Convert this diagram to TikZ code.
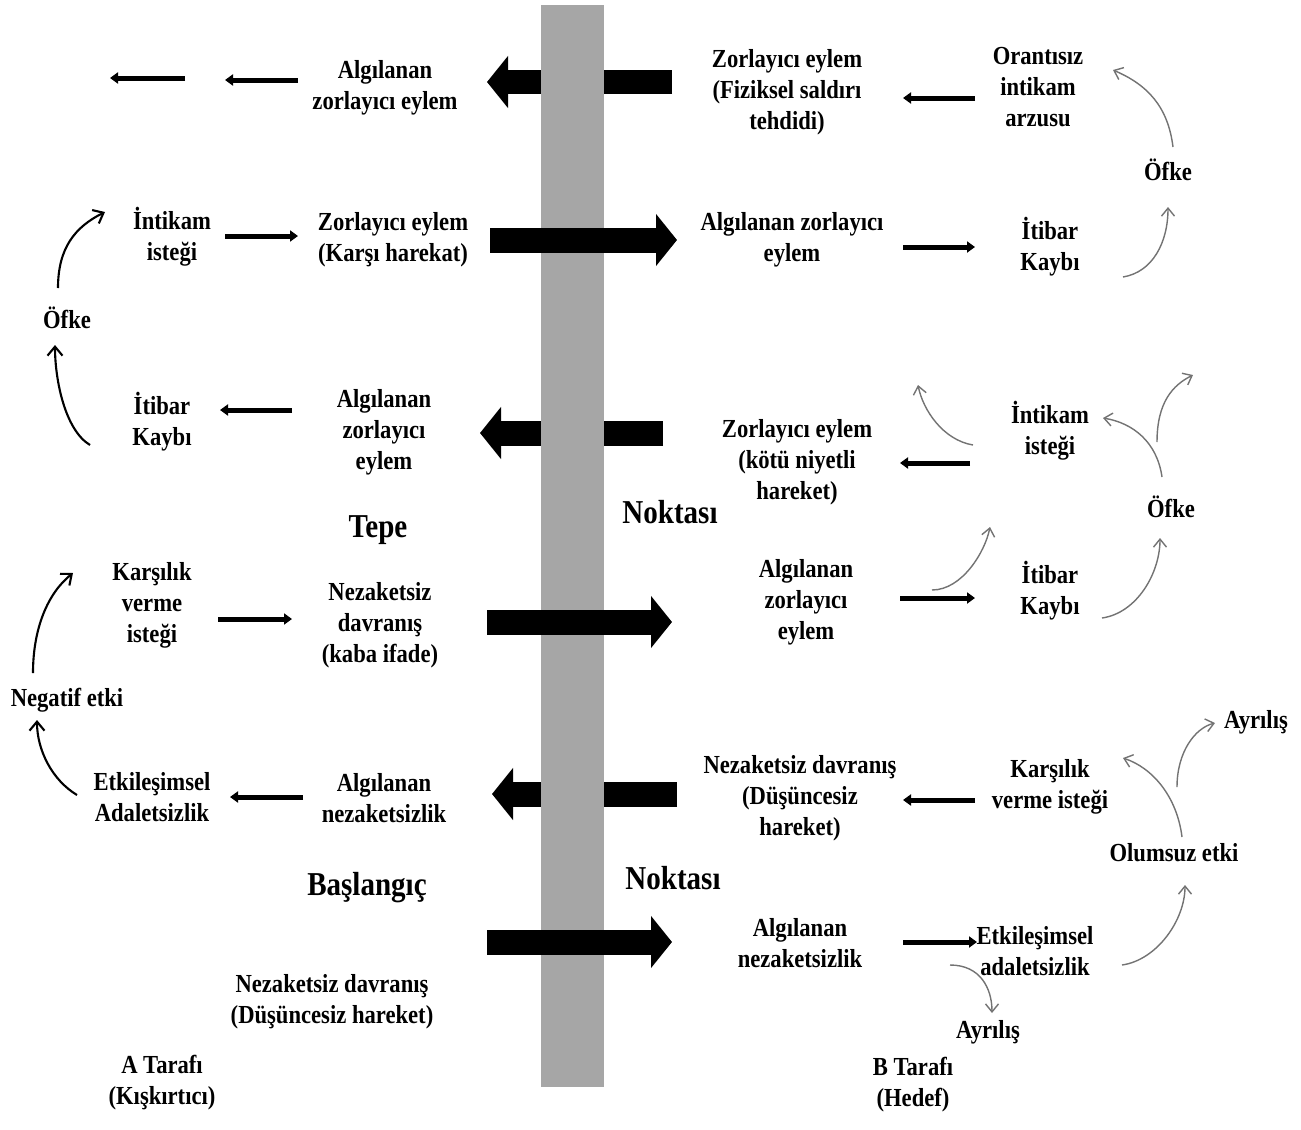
\documentclass[tikz,border=0pt]{standalone}
\usepackage{fontspec}
\setmainfont{Liberation Serif}[FakeStretch=0.87]
\usetikzlibrary{arrows.meta}

\begin{document}
\begin{tikzpicture}[
    x=0.02cm, y=-0.02cm,
    txt/.style={font=\fontsize{14.8pt}{17.6pt}\selectfont\bfseries, align=center, inner sep=0pt},
    heading/.style={font=\fontsize{19pt}{22pt}\selectfont\bfseries, inner sep=0pt},
    wall/.style={rectangle, fill=black!35, minimum width=1.26cm, minimum height=21.64cm, inner sep=0pt},
    bigarrow/.style={line width=0.5cm, -{Triangle[length=0.42cm, width=1.02cm]}},
    thinarrow/.style={line width=0.1cm, -{Triangle[length=0.16cm, width=0.22cm]}},
    loopA/.style={line width=1.2pt, -{Straight Barb[length=0.18cm, width=0.3cm]}},
    loopB/.style={black!55, line width=0.8pt, -{Straight Barb[length=0.16cm, width=0.26cm]}}
]
\useasboundingbox (0,0) rectangle (1301,1129);

% Side A
\node[txt] (aAlg1) at (385,88) {Algılanan\\zorlayıcı eylem};
\node[txt] (aInt) at (172,237) {İntikam\\isteği};
\node[txt] (aZor2) at (393,240) {Zorlayıcı eylem\\(Karşı harekat)};
\node[txt] (aOfke) at (67,318) {Öfke};
\node[txt] (aItb) at (162,422) {İtibar\\Kaybı};
\node[txt] (aAlg3) at (384,432) {Algılanan\\zorlayıcı\\eylem};
\node[heading] (tepe) at (378,530) {Tepe};
\node[txt] (aKar) at (152,605) {Karşılık\\verme\\isteği};
\node[txt] (aNez4) at (380,625) {Nezaketsiz\\davranış\\(kaba ifade)};
\node[txt] (aNeg) at (67,700) {Negatif etki};
\node[txt] (aEtk) at (152,797) {Etkileşimsel\\Adaletsizlik};
\node[txt] (aAlg5) at (384,798) {Algılanan\\nezaketsizlik};
\node[heading] (basl) at (367,888) {Başlangıç};
\node[txt] (aNez6) at (332,1002) {Nezaketsiz davranış\\(Düşüncesiz hareket)};
\node[txt] (aSide) at (162,1083) {A Tarafı\\(Kışkırtıcı)};

% Side B
\node[txt] (bZor1) at (787,92) {Zorlayıcı eylem\\(Fiziksel saldırı\\tehdidi)};
\node[txt] (bOran) at (1038,87) {Orantısız\\intikam\\arzusu};
\node[txt] (bOfke1) at (1168,170) {Öfke};
\node[txt] (bAlg2) at (792,240) {Algılanan zorlayıcı\\eylem};
\node[txt] (bItb2) at (1050,247) {İtibar\\Kaybı};
\node[txt] (bZor3) at (797,462) {Zorlayıcı eylem\\(kötü niyetli\\hareket)};
\node[txt] (bInt3) at (1050,431) {İntikam\\isteği};
\node[heading] (nokt1) at (670,512) {Noktası};
\node[txt] (bOfke3) at (1171,507) {Öfke};
\node[txt] (bAlg4) at (806,602) {Algılanan\\zorlayıcı\\eylem};
\node[txt] (bItb4) at (1050,591) {İtibar\\Kaybı};
\node[txt] (bNez5) at (800,798) {Nezaketsiz davranış\\(Düşüncesiz\\hareket)};
\node[txt] (bKar5) at (1050,787) {Karşılık\\verme isteği};
\node[txt] (bAyr1) at (1256,722) {Ayrılış};
\node[txt] (bOlm) at (1174,853) {Olumsuz etki};
\node[heading] (nokt2) at (673,878) {Noktası};
\node[txt] (bAlg6) at (800,943) {Algılanan\\nezaketsizlik};
\node[txt] (bEtk6) at (1035,951) {Etkileşimsel\\adaletsizlik};
\node[txt] (bAyr2) at (988,1032) {Ayrılış};
\node[txt] (bSide) at (913,1085) {B Tarafı\\(Hedef)};

% Free ends
\coordinate (aOut1) at (225,80);
\coordinate (aOut2) at (185,78);
\coordinate (aOut3) at (110,78);
\coordinate (bOut1) at (918,385);
\coordinate (bOut2) at (1193,375);
\coordinate (bOut3) at (990,527);

% Block arrows B to A (behind the wall)
\draw[bigarrow] ([shift={(-115,-10)}]bZor1.center) -- ([shift={(102,-6)}]aAlg1.center);
\draw[bigarrow] ([shift={(-134,-29)}]bZor3.center) -- ([shift={(96,1)}]aAlg3.center);
\draw[bigarrow] ([shift={(-123,-4)}]bNez5.center) -- ([shift={(108,-4)}]aAlg5.center);

% Wall
\node[wall] (wall) at (572.5,546) {};

% Block arrows A to B
\draw[bigarrow] ([shift={(97,0)}]aZor2.center) -- ([shift={(-115,0)}]bAlg2.center);
\draw[bigarrow] ([shift={(107,-3)}]aNez4.center) -- ([shift={(-134,20)}]bAlg4.center);
\draw[bigarrow] ([shift={(155,-60)}]aNez6.center) -- ([shift={(-128,-1)}]bAlg6.center);

% Thin arrows
\draw[thinarrow] ([shift={(-87,-8)}]aAlg1.center) -- (aOut1);
\draw[thinarrow] (aOut2) -- (aOut3);
\draw[thinarrow] ([shift={(53,-1)}]aInt.center) -- ([shift={(-95,-4)}]aZor2.center);
\draw[thinarrow] ([shift={(-92,-22)}]aAlg3.center) -- ([shift={(58,-12)}]aItb.center);
\draw[thinarrow] ([shift={(66,14)}]aKar.center) -- ([shift={(-88,-6)}]aNez4.center);
\draw[thinarrow] ([shift={(-81,-1)}]aAlg5.center) -- ([shift={(78,0)}]aEtk.center);
\draw[thinarrow] ([shift={(-63,11)}]bOran.center) -- ([shift={(116,6)}]bZor1.center);
\draw[thinarrow] ([shift={(111,7)}]bAlg2.center) -- ([shift={(-75,0)}]bItb2.center);
\draw[thinarrow] ([shift={(-80,32)}]bInt3.center) -- ([shift={(103,1)}]bZor3.center);
\draw[thinarrow] ([shift={(94,-4)}]bAlg4.center) -- ([shift={(-75,7)}]bItb4.center);
\draw[thinarrow] ([shift={(-75,13)}]bKar5.center) -- ([shift={(103,2)}]bNez5.center);
\draw[thinarrow] ([shift={(103,-1)}]bAlg6.center) -- ([shift={(-58,-9)}]bEtk6.center);

% Loops on side A
\draw[loopA] ([shift={(-9,-30)}]aOfke.center) .. controls +(0,-40) and +(-30,15) .. ([shift={(-67,-25)}]aInt.center);
\draw[loopA] ([shift={(-72,23)}]aItb.center) .. controls +(-25,-15) and +(0,35) .. ([shift={(-12,27)}]aOfke.center);
\draw[loopA] ([shift={(-34,-27)}]aNeg.center) .. controls +(0,-45) and +(-25,20) .. ([shift={(-79,-32)}]aKar.center);
\draw[loopA] ([shift={(-75,-2)}]aEtk.center) .. controls +(-25,-15) and +(0,30) .. ([shift={(-30,20)}]aNeg.center);

% Loops on side B
\draw[loopB] ([shift={(5,-23)}]bOfke1.center) .. controls +(-5,-40) and +(35,15) .. ([shift={(75,-17)}]bOran.center);
\draw[loopB] ([shift={(73,30)}]bItb2.center) .. controls +(30,-5) and +(0,35) .. ([shift={(0,37)}]bOfke1.center);
\draw[loopB] ([shift={(-77,14)}]bInt3.center) .. controls +(-30,-5) and +(5,25) .. (bOut1);
\draw[loopB] ([shift={(-9,-30)}]bOfke3.center) .. controls +(-5,-35) and +(30,5) .. ([shift={(53,-13)}]bInt3.center);
\draw[loopB] ([shift={(-14,-65)}]bOfke3.center) .. controls +(0,-40) and +(-20,10) .. (bOut2);
\draw[loopB] ([shift={(126,-12)}]bAlg4.center) .. controls +(30,0) and +(-5,25) .. (bOut3);
\draw[loopB] ([shift={(52,27)}]bItb4.center) .. controls +(35,-5) and +(0,35) .. ([shift={(-11,31)}]bOfke3.center);
\draw[loopB] ([shift={(8,-16)}]bOlm.center) .. controls +(-5,-40) and +(30,10) .. ([shift={(73,-29)}]bKar5.center);
\draw[loopB] ([shift={(3,-66)}]bOlm.center) .. controls +(0,-35) and +(-20,5) .. ([shift={(-41,1)}]bAyr1.center);
\draw[loopB] ([shift={(87,14)}]bEtk6.center) .. controls +(35,-5) and +(0,35) .. ([shift={(11,32)}]bOlm.center);
\draw[loopB] ([shift={(-85,14)}]bEtk6.center) .. controls +(30,0) and +(0,-25) .. ([shift={(4,-19)}]bAyr2.center);

\end{tikzpicture}
\end{document}
